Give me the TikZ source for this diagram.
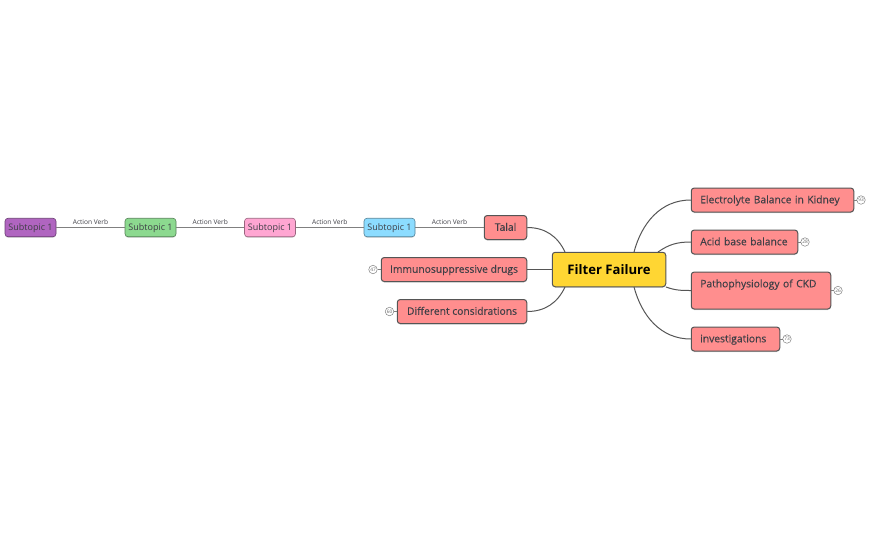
\documentclass[tikz,border=0pt]{standalone}
\usepackage{fontspec}
\setmainfont{Open Sans}
\newfontfamily\topicfont[FakeBold=0.25]{Open Sans}
\usetikzlibrary{shadows}
\definecolor{rootfill}{HTML}{FFD633}
\definecolor{topicfill}{HTML}{FF8E8E}
\definecolor{linegray}{HTML}{555555}
\definecolor{inkgray}{HTML}{3F3F46}
\definecolor{subblue}{HTML}{8CDCFF}
\definecolor{subpink}{HTML}{FFA6D2}
\definecolor{subgreen}{HTML}{8CD98F}
\definecolor{subpurple}{HTML}{B065C0}
\begin{document}
\begin{tikzpicture}
        [x=1pt,y=-1pt,
        box/.style={draw=linegray,rounded corners=3pt,line width=1pt,text=inkgray,align=left,inner ysep=0pt,
            drop shadow={shadow xshift=0pt,shadow yshift=-1pt,opacity=.15,fill=black}},
        topic/.style={box,fill=topicfill,inner xsep=9pt,minimum height=24pt,text height=8.5pt,text depth=2pt,font=\topicfont\fontsize{10.3}{12}\selectfont},
        subtopic/.style={box,line width=0.6pt,align=center,inner xsep=0pt,minimum width=51pt,minimum height=18.5pt,text height=7.5pt,text depth=1.3pt,font=\fontsize{9}{11}\selectfont},
        badge/.style={circle,draw=gray,line width=0.5pt,minimum size=8.5pt,inner sep=0pt,text=gray!80!black,font=\fontsize{4.8}{5}\selectfont},
        branch/.style={draw=linegray,line width=1pt},
        stub/.style={draw=gray,line width=0.5pt},
        verb/.style={text=inkgray,font=\fontsize{6.6}{8}\selectfont,inner sep=3pt}]
        \useasboundingbox (0,0) rectangle (870,539);
        %Root
        \node[box,fill=rootfill,text=black,minimum width=113.5pt,minimum height=34.5pt,align=center,font=\bfseries\fontsize{13.1}{15}\selectfont] (Filter) at (609,269.5) {Filter Failure};
        \coordinate (FilterA) at (565,252);
        \coordinate (FilterB) at (565,287);
        \coordinate (FilterC) at (634,252);
        \coordinate (FilterD) at (658,252);
        \coordinate (FilterE) at (666,287);
        \coordinate (FilterF) at (634,287);
        %Left side
        \node[topic,align=center,minimum width=42.5pt,inner xsep=0pt] (Talal) at (505.5,227.5) {Talal};
        \node[topic,align=center,minimum width=145.5pt,inner xsep=0pt] (Immuno) at (454,269.5) {Immunosuppressive drugs};
        \node[topic,align=center,minimum width=129.5pt,inner xsep=0pt] (Different) at (462,311.5) {Different considrations};
        \node[subtopic,fill=subblue,draw=subblue!60!black] (SubD) at (389.5,227.5) {Subtopic 1};
        \node[subtopic,fill=subpink,draw=subpink!60!black] (SubC) at (270,227.5) {Subtopic 1};
        \node[subtopic,fill=subgreen,draw=subgreen!60!black] (SubB) at (150.5,227.5) {Subtopic 1};
        \node[subtopic,fill=subpurple,draw=subpurple!60!black] (SubA) at (30.5,227.5) {Subtopic 1};
        \node[badge] (BadgeImmuno) at (373,269.5) {47};
        \node[badge] (BadgeDifferent) at (389.5,311.5) {60};
        %Right side
        \node[topic,text width=144.5pt] (Electrolyte) at (772.5,200) {Electrolyte Balance in Kidney};
        \node[topic,text width=88.5pt] (Acid) at (744.5,242) {Acid base balance};
        \node[topic,text width=121.5pt,text height=9.3pt,text depth=15.7pt,inner ysep=6pt] (Patho) at (761,290.5) {Pathophysiology of CKD};
        \node[topic,text width=70.5pt] (Invest) at (735.5,339) {investigations};
        \node[badge] (BadgeElectrolyte) at (861,200) {93};
        \node[badge] (BadgeAcid) at (805,242) {28};
        \node[badge] (BadgePatho) at (838,290.5) {26};
        \node[badge] (BadgeInvest) at (787,339) {73};

        \draw[branch] (Talal.east) to[out=0,in=115] (FilterA);
        \draw[branch] (Immuno) -- (Filter);
        \draw[branch] (Different.east) to[out=0,in=-115] (FilterB);
        \draw[branch] (Electrolyte.west) to[out=180,in=75] (FilterC);
        \draw[branch] (Acid.west) to[out=180,in=35] (FilterD);
        \draw[branch] (Patho.west) to[out=180,in=-20] (FilterE);
        \draw[branch] (Invest.west) to[out=180,in=-75] (FilterF);

        \draw[stub]
        (Immuno)        edge    (BadgeImmuno)
        (Different)     edge    (BadgeDifferent)
        (Electrolyte)   edge    (BadgeElectrolyte)
        (Acid)          edge    (BadgeAcid)
        (Patho)         edge    (BadgePatho)
        (Invest)        edge    (BadgeInvest);

        \draw[every node/.style={verb,above},draw=gray,line width=0.7pt]
        (SubA)  edge    node {Action Verb}  (SubB)
        (SubB)  edge    node {Action Verb}  (SubC)
        (SubC)  edge    node {Action Verb}  (SubD)
        (SubD)  edge    node {Action Verb}  (Talal);
    \end{tikzpicture}
\end{document}
